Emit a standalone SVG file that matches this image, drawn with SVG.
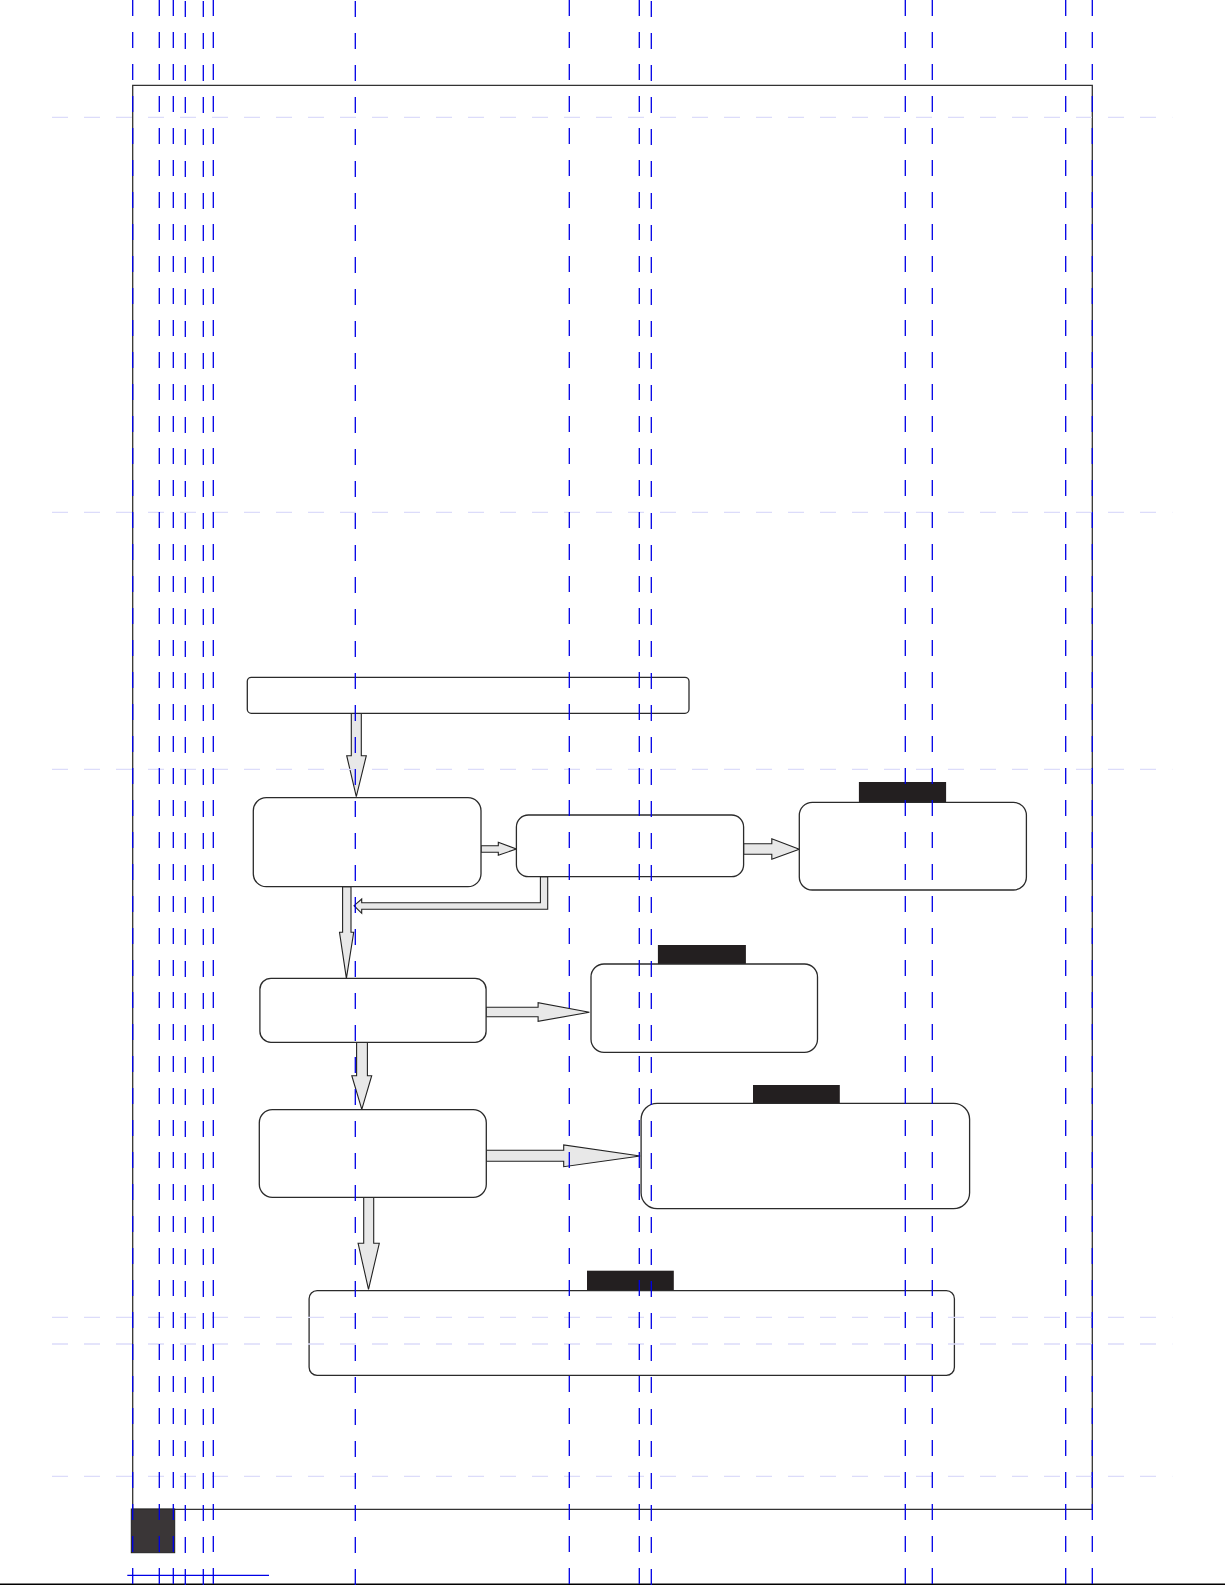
<svg xmlns="http://www.w3.org/2000/svg" width="1225" height="1585" viewBox="0 0 1225 1585">
<style>
.box{fill:#fff;stroke:#2b2b2b;stroke-width:1.3}
.tab{fill:#231f20}
.arr{fill:#e8e8e8;stroke:#222;stroke-width:1.1;stroke-linejoin:miter}
.vg{stroke:#0000e6;stroke-width:1.3;stroke-dasharray:16 16;fill:none}
.hg{stroke:#dcdcfa;stroke-width:1.3;stroke-dasharray:16 16;fill:none}
.frame{stroke:#333;stroke-width:1.3;fill:none}
</style>
<rect x="0" y="0" width="1225" height="1585" fill="#fff"/>
<g id="frame">
<polyline class="frame" points="132.7,1509.3 132.7,85.3 1092.3,85.3 1092.3,1509.3 132.7,1509.3"/>
<rect x="131.3" y="1509" width="43.4" height="43.7" fill="#3a3637" stroke="#222" stroke-width="1"/>
<line x1="127.3" y1="1575.3" x2="269" y2="1575.3" stroke="#0000e6" stroke-width="1.2"/>
<line x1="0" y1="1584.3" x2="1225" y2="1584.3" stroke="#000" stroke-width="1.5"/>
</g>
<g id="connectors">
<polygon class="arr" points="351.3,713.3 361.3,713.3 361.3,755.7 366.3,755.7 356.3,796.7 346.7,755.7 351.3,755.7"/>
<polygon class="arr" points="481,845.7 498.3,845.7 498.3,842.3 516.4,849 498.3,855.3 498.3,852.3 481,852.3"/>
<polygon class="arr" points="743.6,843.7 771.8,843.7 771.8,838.7 799.3,849.3 771.8,859.3 771.8,854.3 743.6,854.3"/>
<polygon class="arr" points="540.4,876.7 547.7,876.7 547.7,909.3 361.7,909.3 361.7,913.3 354,905.7 361.7,899 361.7,902.7 540.4,902.7"/>
<polygon class="arr" points="342.6,886.7 351,886.7 351,932.3 353.7,932.3 346.4,978.3 339.5,932.3 342.6,932.3"/>
<polygon class="arr" points="486.1,1007.3 538.1,1007.3 538.1,1002.7 589.4,1012.3 538.1,1021.3 538.1,1016.7 486.1,1016.7"/>
<polygon class="arr" points="356.6,1042.3 367.4,1042.3 367.4,1075.7 371.7,1075.7 361.8,1109.3 351.8,1075.7 356.6,1075.7"/>
<polygon class="arr" points="486.3,1150.3 563.7,1150.3 563.7,1145 640.2,1156 563.7,1166.7 563.7,1161.3 486.3,1161.3"/>
<polygon class="arr" points="363.7,1197.3 373.7,1197.3 373.7,1243.3 379.3,1243.3 368.5,1289.3 358.1,1243.3 363.7,1243.3"/>
</g>
<g id="n-top"><rect class="box" x="247.3" y="677.3" width="441.7" height="36" rx="4"/></g>
<g id="n1"><rect class="box" x="253.3" y="797.7" width="227.7" height="89" rx="13"/></g>
<g id="n2"><rect class="box" x="516.4" y="815" width="227.2" height="61.7" rx="12"/></g>
<g id="n3"><rect class="tab" x="858.9" y="782" width="87.2" height="20.3"/><rect class="box" x="799.3" y="802.3" width="227.1" height="87.7" rx="13"/></g>
<g id="n4"><rect class="box" x="259.9" y="978.3" width="226.2" height="64" rx="11"/></g>
<g id="n5"><rect class="tab" x="657.9" y="945" width="88" height="19"/><rect class="box" x="591" y="964" width="226.5" height="88.3" rx="13"/></g>
<g id="n6"><rect class="box" x="259.3" y="1109.7" width="227" height="87.6" rx="13"/></g>
<g id="n7"><rect class="tab" x="753" y="1085" width="86.8" height="18.3"/><rect class="box" x="641.1" y="1103.3" width="328.5" height="105.4" rx="16"/></g>
<g id="n8"><rect class="tab" x="587" y="1270.7" width="86.8" height="20"/><rect class="box" x="309.1" y="1290.7" width="645.3" height="84.6" rx="8"/></g>
<g id="guides-h">
<line class="hg" x1="52" y1="117.3" x2="1172.3" y2="117.3"/>
<line class="hg" x1="52" y1="512.3" x2="1172.3" y2="512.3"/>
<line class="hg" x1="52" y1="769.3" x2="1172.3" y2="769.3"/>
<line class="hg" x1="52" y1="1317.3" x2="1172.3" y2="1317.3"/>
<line class="hg" x1="52" y1="1344" x2="1172.3" y2="1344"/>
<line class="hg" x1="52" y1="1476.3" x2="1172.3" y2="1476.3"/>
</g>
<g id="guides-v">
<line class="vg" x1="132.7" y1="0" x2="132.7" y2="1585"/>
<line class="vg" x1="159.3" y1="0" x2="159.3" y2="1585"/>
<line class="vg" x1="173.3" y1="0" x2="173.3" y2="1585"/>
<line class="vg" x1="185.3" y1="1" x2="185.3" y2="1585"/>
<line class="vg" x1="203.3" y1="1" x2="203.3" y2="1585"/>
<line class="vg" x1="213.3" y1="0" x2="213.3" y2="1585"/>
<line class="vg" x1="355.3" y1="1" x2="355.3" y2="1585"/>
<line class="vg" x1="569.3" y1="0" x2="569.3" y2="1585"/>
<line class="vg" x1="639.3" y1="0" x2="639.3" y2="1585"/>
<line class="vg" x1="651.3" y1="1" x2="651.3" y2="1585"/>
<line class="vg" x1="905.3" y1="0" x2="905.3" y2="1585"/>
<line class="vg" x1="932.3" y1="0" x2="932.3" y2="1585"/>
<line class="vg" x1="1065.7" y1="0" x2="1065.7" y2="1585"/>
<line class="vg" x1="1092.3" y1="0" x2="1092.3" y2="1585"/>
</g>
</svg>
